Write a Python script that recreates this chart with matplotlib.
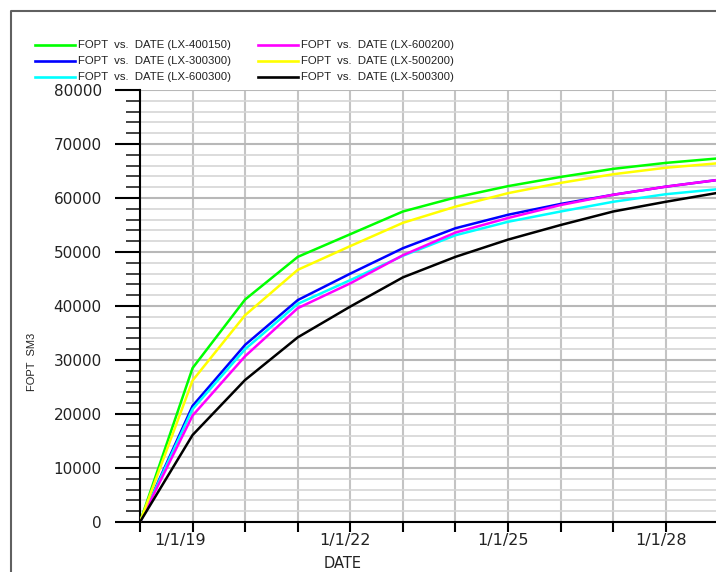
import matplotlib
matplotlib.use("Agg")
import matplotlib.pyplot as plt
import matplotlib.dates as mdates
import matplotlib.transforms as mtransforms
from matplotlib.lines import Line2D
from matplotlib.ticker import FixedLocator
import pandas as pd

# yearly report dates, last one is where the plot is cut off on the right
dates = pd.to_datetime(["2018-01-01", "2019-01-01", "2020-01-01", "2021-01-01", "2022-01-01",
                        "2023-01-01", "2024-01-01", "2025-01-01", "2026-01-01", "2027-01-01",
                        "2028-01-01", "2028-12-15"])

wells = ["LX-400150", "LX-300300", "LX-600300", "LX-600200", "LX-500200", "LX-500300"]
colors = ["#00ff00", "#0000ff", "#00ffff", "#ff00ff", "#ffff00", "#000000"]

fopt_400150 = [0, 28500, 41200, 49100, 53300, 57500, 60100, 62200, 63900, 65400, 66500, 67300]
fopt_300300 = [0, 21500, 32800, 41100, 46000, 50700, 54400, 56900, 58900, 60600, 62100, 63300]
fopt_600300 = [0, 20900, 32000, 40400, 44800, 49300, 53100, 55600, 57500, 59300, 60700, 61600]
fopt_600200 = [0, 19700, 30700, 39600, 44200, 49400, 53600, 56300, 58700, 60600, 62100, 63300]
fopt_500200 = [0, 26200, 38300, 46700, 51100, 55400, 58400, 60900, 62800, 64400, 65600, 66400]
fopt_500300 = [0, 16100, 26300, 34200, 39900, 45300, 49100, 52300, 55000, 57500, 59300, 60900]
series = [fopt_400150, fopt_300300, fopt_600300, fopt_600200, fopt_500200, fopt_500300]

tick_years = list(range(2018, 2029))
label_years = [2019, 2022, 2025, 2028]

W, H = 716, 572
fig = plt.figure(figsize=(W / 100, H / 100), dpi=100)
ax = fig.add_axes([140 / W, 50 / H, 576 / W, 432 / H])

for vals, c in zip(series, colors):
    ax.plot(dates, vals, color=c, lw=1.8, solid_joinstyle="round", zorder=3)

ax.set_ylim(0, 80000)
ax.set_xlim(pd.Timestamp("2018-01-01"), pd.Timestamp("2028-12-15"))

# y axis: majors every 10000, minors every 2000
ax.yaxis.set_major_locator(FixedLocator(range(0, 80001, 10000)))
ax.yaxis.set_minor_locator(FixedLocator(range(0, 80001, 2000)))
ax.tick_params(axis="y", which="major", direction="out", length=18, width=1.5, pad=9.5,
               labelsize=11, labelcolor="#222222")
ax.tick_params(axis="y", which="minor", direction="out", length=10, width=1.3, color="#333333")

xt = [pd.Timestamp(f"{y}-01-01") for y in tick_years]
ax.xaxis.set_major_locator(FixedLocator(mdates.date2num(xt)))
ax.set_xticklabels([f"1/1/{y % 100:02d}" if y in label_years else "" for y in tick_years])
ax.tick_params(axis="x", which="major", direction="out", length=7, width=1.5, pad=1,
               labelsize=11.5, labelcolor="#222222")

ax.grid(True, axis="x", which="major", color="#c4c4c4", lw=1.5, zorder=0)
ax.grid(True, axis="y", which="minor", color="#d6d6d6", lw=1.2, zorder=0)
ax.grid(True, axis="y", which="major", color="#b8b8b8", lw=1.5, zorder=0)

for s in ["top", "right"]:
    ax.spines[s].set_visible(False)
for s in ["left", "bottom"]:
    ax.spines[s].set_linewidth(1.5)

ax.set_xlabel("DATE", fontsize=10.5, color="#222222")
ax.xaxis.set_label_coords((343 - 140) / 576, -(556 - 522) / 432)
fig.text(32 / W, 1 - 362 / H, "FOPT  SM3", rotation=90, ha="center", va="center",
         fontsize=8, family="Liberation Sans", color="#222222")

# legend drawn by hand, two columns of three rows
leg_cols = [(35, 75, 78), (258, 298, 301)]
leg_rows = [45, 61, 77]
for i, (w, c) in enumerate(zip(wells, colors)):
    x0, x1, xt_ = leg_cols[i // 3]
    yy = 1 - leg_rows[i % 3] / H
    fig.add_artist(Line2D([x0 / W, x1 / W], [yy, yy], color=c, lw=1.9))
    fig.text(xt_ / W, yy, f"FOPT  vs.  DATE ({w})", ha="left", va="center",
             fontsize=8.2, family="Liberation Sans", color="#222222")

# outer frame
fig.add_artist(Line2D([11 / W, 11 / W, 1.0], [0.0, 1 - 11 / H, 1 - 11 / H],
                      color="#606060", lw=1.5))

fig.canvas.draw()
# date labels sit a little left of their ticks in the original
for i, t in enumerate(ax.xaxis.get_major_ticks()):
    dx = -12 if i == 1 else -5
    t.label1.set_transform(t.label1.get_transform() +
                           mtransforms.ScaledTranslation(dx / 100, 0, fig.dpi_scale_trans))

fig.savefig("out.png", dpi=100)
